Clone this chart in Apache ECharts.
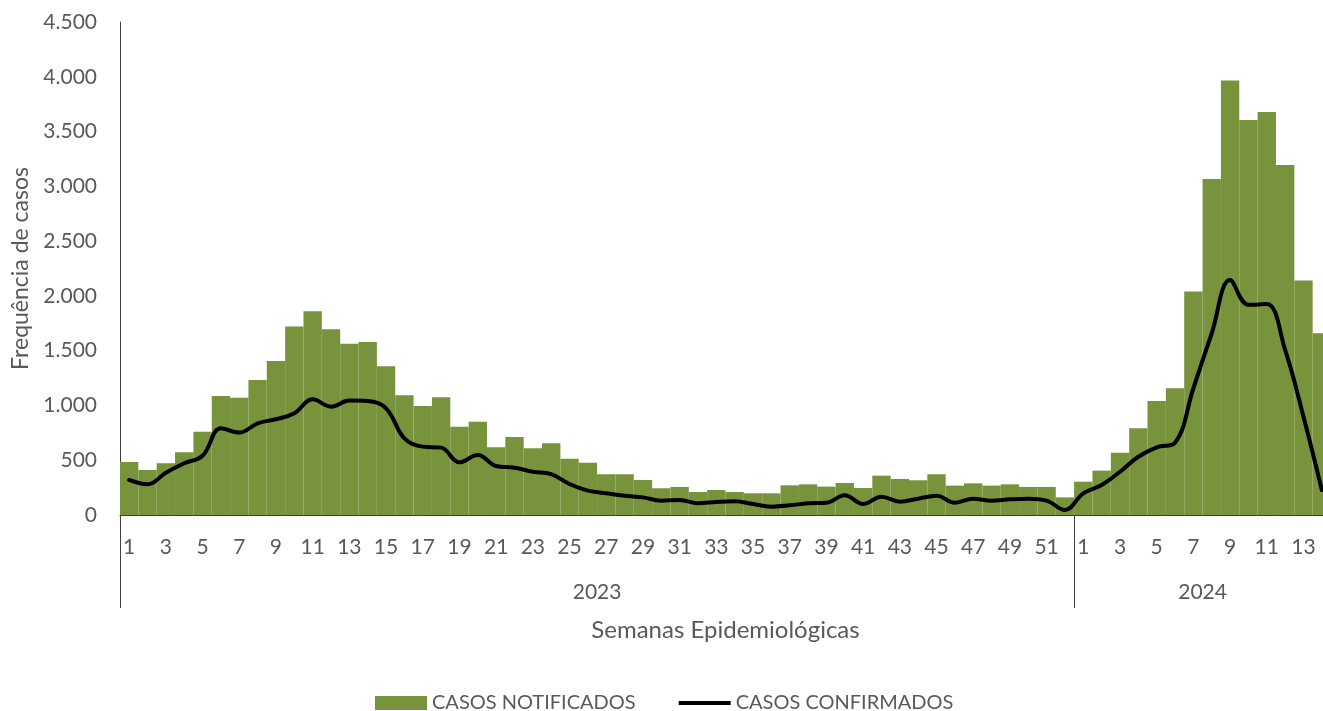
<!DOCTYPE html>
<html>
<head>
<meta charset="utf-8">
<script src="https://cdn.jsdelivr.net/npm/echarts@6/dist/echarts.min.js"></script>
<style>
  html, body { margin: 0; padding: 0; background: #fff; }
  #chart { width: 1323px; height: 711px; }
</style>
</head>
<body>
<div id="chart"></div>
<script>
// semanas epidemiológicas
var semanas2023 = Array.from({ length: 52 }, (_, i) => String(i + 1));
var semanas2024 = Array.from({ length: 14 }, (_, i) => String(i + 1));
var anos = ["2023", "2024"];

// casos notificados (barras)
var notificados2023 = [484, 411, 472, 572, 761, 1087, 1071, 1233, 1406, 1720,
    1860, 1696, 1562, 1580, 1358, 1093, 995, 1075, 806, 852,
    618, 712, 609, 655, 514, 478, 372, 372, 320, 244,
    256, 210, 228, 210, 198, 198, 271, 280, 259, 292,
    247, 359, 329, 317, 372, 268, 289, 268, 280, 256,
    256, 161];
var notificados2024 = [304, 405, 569, 791, 1041, 1157, 2039, 3066, 3966, 3605,
    3678, 3194, 2140, 1659];

// casos confirmados (linha)
var confirmados2023 = [320, 280, 386, 472, 541, 791, 752, 837, 874, 929,
    1056, 989, 1044, 1040, 974, 700, 624, 615, 481, 548,
    447, 432, 395, 374, 283, 222, 198, 176, 161, 131,
    137, 108, 119, 125, 100, 76, 88, 107, 112, 180,
    100, 167, 122, 149, 176, 112, 149, 131, 143, 149,
    131, 46];
var confirmados2024 = [198, 274, 395, 532, 618, 660, 1157, 1659, 2145, 1918,
    1925, 1507, 898, 228];

var yTicks = { min: 0, max: 4500, interval: 500 };

(function () {
    var semanas = semanas2023.concat(semanas2024);
    var notificados = notificados2023.concat(notificados2024);
    var confirmados = confirmados2023.concat(confirmados2024);

    // eixo de grupos (anos): fronteiras entre as semanas
    var fronteiras = [];
    for (var i = 0; i <= semanas.length; i++) fronteiras.push("");
    var corte = semanas2023.length;
    fronteiras[Math.round(corte / 2)] = anos[0];
    fronteiras[corte + Math.round(semanas2024.length / 2)] = anos[1];

    var cinza = "#595959";
    var fonte = "Lato, 'Open Sans', sans-serif";

    var myChart = echarts.init(document.getElementById("chart"));
    var option = {
        animation: false,
        color: ["#77933c", "#000000"],
        textStyle: { fontFamily: fonte },
        grid: {
            left: 120,
            right: -8,
            top: 22,
            bottom: 196,
            outerBoundsMode: "none"
        },
        legend: {
            left: 370,
            top: 688,
            itemWidth: 52,
            itemHeight: 14,
            itemGap: 43,
            textStyle: { color: cinza, fontSize: 20, fontFamily: fonte },
            data: [
                { name: "CASOS NOTIFICADOS", icon: "rect", itemStyle: { color: "#77933c" } },
                { name: "CASOS CONFIRMADOS", icon: "path://M0,0 L55,0 L55,4 L0,4 Z", itemStyle: { color: "#000000" } }
            ]
        },
        xAxis: [
            {
                type: "category",
                data: semanas,
                name: "Semanas Epidemiológicas",
                nameLocation: "middle",
                nameGap: 103,
                nameTextStyle: { color: cinza, fontSize: 24, fontFamily: fonte },
                axisLine: { show: true, lineStyle: { color: "#404040", width: 1 } },
                axisTick: { show: false },
                axisLabel: {
                    interval: 1,
                    color: cinza,
                    fontSize: 21,
                    margin: 22
                }
            },
            {
                type: "category",
                data: fronteiras,
                boundaryGap: false,
                position: "bottom",
                axisLine: { show: false },
                axisTick: {
                    show: true,
                    length: 93,
                    interval: function (index) {
                        return index === 0 || index === corte || index === fronteiras.length - 1;
                    },
                    lineStyle: { color: "#404040", width: 1 }
                },
                axisLabel: {
                    interval: function (index, value) { return value !== ""; },
                    color: cinza,
                    fontSize: 21,
                    margin: 67
                }
            }
        ],
        yAxis: {
            type: "value",
            min: yTicks.min,
            max: yTicks.max,
            interval: yTicks.interval,
            name: "Frequência de casos",
            nameLocation: "middle",
            nameGap: 88,
            nameTextStyle: { color: cinza, fontSize: 23, fontFamily: fonte },
            axisLine: { show: true, lineStyle: { color: "#404040", width: 1 } },
            axisTick: { show: false },
            splitLine: { show: false },
            axisLabel: {
                color: cinza,
                fontSize: 21,
                margin: 23,
                formatter: function (v) {
                    return String(v).replace(/\B(?=(\d{3})+(?!\d))/g, ".");
                }
            }
        },
        series: [
            {
                name: "CASOS NOTIFICADOS",
                type: "bar",
                data: notificados,
                barCategoryGap: "0%",
                itemStyle: { color: "#77933c" }
            },
            {
                name: "CASOS CONFIRMADOS",
                type: "line",
                data: confirmados,
                smooth: 0.4,
                symbol: "none",
                itemStyle: { color: "#000000" },
                lineStyle: { color: "#000000", width: 4, cap: "round", join: "round" }
            }
        ]
    };

    myChart.setOption(option);
    window.addEventListener("resize", function () {
        myChart.resize();
    });
})();
</script>
</body>
</html>
